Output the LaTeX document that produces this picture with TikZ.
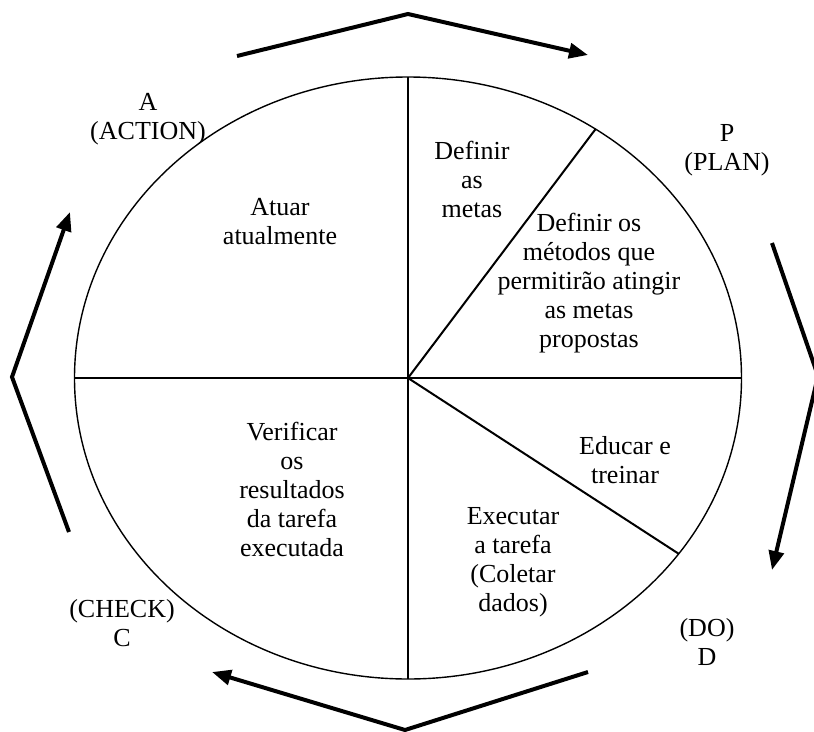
\documentclass[tikz,border=0pt]{standalone}
\usepackage{fontspec}
\setmainfont{Liberation Serif}
\usetikzlibrary{arrows.meta,shapes.geometric}

\tikzset{
  lbl/.style={align=center, inner sep=0pt, font=\fontsize{26}{29}\selectfont},
  divider/.style={line width=2pt},
  turn/.style={line width=4pt, line join=miter, -{Triangle[length=19pt,width=15pt]}}
}

\begin{document}
\begin{tikzpicture}[x=1pt, y=-1pt]
        \useasboundingbox (0,0) rectangle (814,731);
        % the wheel
        \node[draw, ellipse, line width=1.4pt, inner sep=0pt, outer sep=0pt,
              minimum width=667pt, minimum height=602pt] (cyc) at (408,378) {};
        \draw[divider] (cyc.north) -- (cyc.south);
        \draw[divider] (cyc.west) -- (cyc.east);
        \draw[divider] (cyc.center) -- (cyc.53.5);
        \draw[divider] (cyc.center) -- (cyc.-33.3);
        % arrows round the wheel
        \coordinate (topa) at (237,56);
        \coordinate (topb) at (408,14);
        \coordinate (topc) at (588,55);
        \coordinate (rga) at (772,243);
        \coordinate (rgb) at (818,376);
        \coordinate (rgc) at (772,570);
        \coordinate (bota) at (588,672);
        \coordinate (botb) at (405,730);
        \coordinate (botc) at (212,672);
        \coordinate (lfa) at (69,532);
        \coordinate (lfb) at (12,377);
        \coordinate (lfc) at (70,212);
        \draw[turn] (topa) -- (topb) -- (topc);
        \draw[turn] (rga) -- (rgb) -- (rgc);
        \draw[turn] (bota) -- (botb) -- (botc);
        \draw[turn] (lfa) -- (lfb) -- (lfc);
        % phase names
        \node[lbl] (act) at (148,119) {A\\(ACTION)};
        \node[lbl] (plan) at (727,150) {P\\(PLAN)};
        \node[lbl] (do) at (707,642) {(DO)\\D};
        \node[lbl] (chk) at (122,623) {(CHECK)\\C};
        % sector texts
        \node[lbl] (atu) at (280,222) {Atuar\\atualmente};
        \node[lbl] (metas) at (472,179) {Definir\\as\\metas};
        \node[lbl] (metod) at (589,283) {Definir os\\métodos que\\permitirão atingir\\as metas\\propostas};
        \node[lbl] (edu) at (625,460) {Educar e\\treinar};
        \node[lbl] (exe) at (513,562) {Executar\\a tarefa\\(Coletar\\dados)};
        \node[lbl] (ver) at (292,489) {Verificar\\os\\resultados\\da tarefa\\executada};
    \end{tikzpicture}
\end{document}
